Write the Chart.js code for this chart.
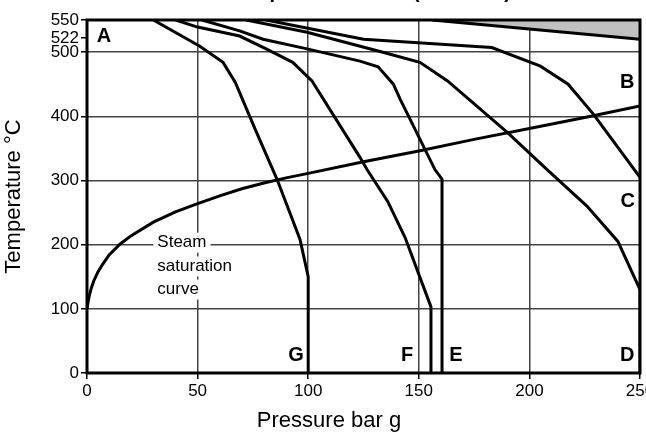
<!DOCTYPE html>
<html>
<head>
<meta charset="utf-8">
<script src="https://cdn.jsdelivr.net/npm/chart.js@4/dist/chart.umd.min.js"></script>
<style>
  html, body { margin: 0; padding: 0; background: #fff; }
  #wrap { width: 646px; height: 435px; position: relative; }
</style>
</head>
<body>
<div id="wrap"><canvas id="c" width="646" height="435"></canvas></div>
<script>
// ---- tick labels ----
const pressureTicks = [0, 50, 100, 150, 200, 250];
const temperatureTicks = [0, 100, 200, 300, 400, 500, 522, 550];

// ---- text ----
const chartTitle = 'Pressure/temperature limits (ISO 6552)';
const xTitle = 'Pressure bar g';
const yTitle = 'Temperature °C';

// ---- steam saturation curve ----
const satP = [0, 0.5, 1, 2, 3, 5, 7, 10, 15, 20, 30, 40, 50, 60, 70, 80, 90, 100, 125, 150, 175, 200, 225, 250];
const satT = [100, 111, 120, 133, 143, 158, 169, 184, 201, 214, 235, 251, 264, 276, 287, 296, 304, 311, 329, 346, 364, 381, 398, 416];

// ---- limit curves A-G ----
const curveGP = [30, 51, 61.5, 67, 76, 86, 96.3, 100, 100];
const curveGT = [550, 509, 484, 453, 380, 301, 208, 150, 0];

const curveFP = [40, 50, 69, 81, 93, 101.7, 123.4, 126.6, 136, 143.8, 155.5, 155.5];
const curveFT = [550, 539, 525, 505, 484, 455, 336, 317, 267, 211, 103, 0];

const curveEP = [52, 69, 79.6, 99.5, 123.4, 131.6, 138.5, 141.5, 157.3, 160.5, 160.5];
const curveET = [550, 533, 520, 505, 486, 477, 450, 427, 317, 302, 0];

const curveDP = [72, 99.5, 132.5, 150.5, 163, 190, 208, 226, 240, 250, 250];
const curveDT = [550, 531, 501, 484, 455, 375, 317, 260, 205, 130, 0];

const curveCP = [81, 125, 183, 205, 217.5, 229, 250];
const curveCT = [550, 520, 507, 478, 450, 403, 305];

// ---- shaded (not permitted) region boundary ----
const shadeP = [156, 250];
const shadeT = [550, 520];

// ---- letter labels ----
const letterNames = ['A', 'B', 'C', 'D', 'E', 'F', 'G'];
const letterP = [7.7, 244.2, 244.4, 244.2, 166.8, 144.7, 94.5];
const letterT = [525, 453, 267, 28, 28, 28, 28];

// ---- annotation text ----
const noteLines = ['Steam', 'saturation', 'curve'];
const noteP = 31.8;
const noteT = [203, 166, 130];

function pts(p, t) { return p.map((x, i) => ({ x: x, y: t[i] })); }

const tickFont = { family: "'Liberation Sans', Arial, sans-serif", size: 17 };
const titleFont = { family: "'Liberation Sans', Arial, sans-serif", size: 22 };

function lineDs(data) {
  return { data: data, borderColor: '#000', borderWidth: 3, pointRadius: 0, fill: false, tension: 0, borderJoinStyle: 'miter' };
}

const decor = {
  id: 'decor',
  beforeDatasetsDraw(chart) {
    const { ctx, scales } = chart;
    ctx.save();
    ctx.font = "17px 'Liberation Sans', Arial, sans-serif";
    ctx.textBaseline = 'middle';
    ctx.textAlign = 'left';
    noteLines.forEach((s, i) => {
      const x = scales.x.getPixelForValue(noteP);
      const y = scales.y.getPixelForValue(noteT[i]);
      const w = ctx.measureText(s).width;
      ctx.fillStyle = '#fff';
      ctx.fillRect(x - 4, y - 10, w + 8, 20);
      ctx.fillStyle = '#000';
      ctx.fillText(s, x, y);
    });
    ctx.restore();
  },
  afterDatasetsDraw(chart) {
    const { ctx, scales, chartArea } = chart;
    ctx.save();
    ctx.strokeStyle = '#000';
    ctx.lineWidth = 3;
    ctx.strokeRect(chartArea.left, chartArea.top, chartArea.right - chartArea.left, chartArea.bottom - chartArea.top);
    ctx.font = "bold 20px 'Liberation Sans', Arial, sans-serif";
    ctx.fillStyle = '#000';
    ctx.textAlign = 'center';
    ctx.textBaseline = 'middle';
    letterNames.forEach((s, i) => {
      ctx.fillText(s, scales.x.getPixelForValue(letterP[i]), scales.y.getPixelForValue(letterT[i]));
    });
    ctx.restore();
  },
  afterDraw(chart) {
    const { ctx } = chart;
    ctx.save();
    ctx.fillStyle = '#000';
    ctx.font = "22px 'Liberation Sans', Arial, sans-serif";
    ctx.textAlign = 'center';
    ctx.textBaseline = 'alphabetic';
    ctx.fillText(xTitle, 329, 427);
    ctx.font = "bold 20px 'Liberation Sans', Arial, sans-serif";
    ctx.textAlign = 'left';
    const pre = chartTitle.slice(0, chartTitle.indexOf('('));
    ctx.fillText(chartTitle, 413 - ctx.measureText(pre).width, -2);
    ctx.restore();
  }
};

new Chart(document.getElementById('c'), {
  type: 'line',
  data: {
    datasets: [
      Object.assign(lineDs(pts(shadeP, shadeT)), { fill: 'end', backgroundColor: '#c0c0c0' }),
      lineDs(pts(satP, satT)),
      lineDs(pts(curveGP, curveGT)),
      lineDs(pts(curveFP, curveFT)),
      lineDs(pts(curveEP, curveET)),
      lineDs(pts(curveDP, curveDT)),
      lineDs(pts(curveCP, curveCT))
    ]
  },
  options: {
    responsive: false,
    animation: false,
    parsing: true,
    layout: { padding: { top: 20, right: 6, left: 0, bottom: 0 } },
    plugins: { legend: { display: false }, tooltip: { enabled: false }, title: { display: false } },
    scales: {
      x: {
        type: 'linear', min: 0, max: 250,
        afterBuildTicks: s => { s.ticks = pressureTicks.map(v => ({ value: v })); },
        ticks: { font: tickFont, color: '#000', padding: 2, maxRotation: 0, autoSkip: false },
        grid: { color: '#444', lineWidth: 1.5, tickLength: 6, tickColor: '#000', tickWidth: 1.5 },
        border: { display: false },
        afterFit: s => { s.height = 62; s.paddingLeft = 0; s.paddingRight = 0; }
      },
      y: {
        type: 'linear', min: 0, max: 550,
        afterBuildTicks: s => { s.ticks = temperatureTicks.map(v => ({ value: v })); },
        ticks: { font: tickFont, color: '#000', padding: 2, autoSkip: false },
        grid: {
          color: c => (c.tick && c.tick.value === 522) ? 'rgba(0,0,0,0)' : '#444',
          lineWidth: 1.5, tickLength: 6, tickColor: '#000', tickWidth: 1.5
        },
        border: { display: false },
        title: { display: true, text: yTitle, font: titleFont, color: '#000', padding: { top: 1, bottom: 0 } },
        afterFit: s => { s.width = 87; s.paddingTop = 0; s.paddingBottom = 0; }
      }
    }
  },
  plugins: [decor]
});
</script>
</body>
</html>
